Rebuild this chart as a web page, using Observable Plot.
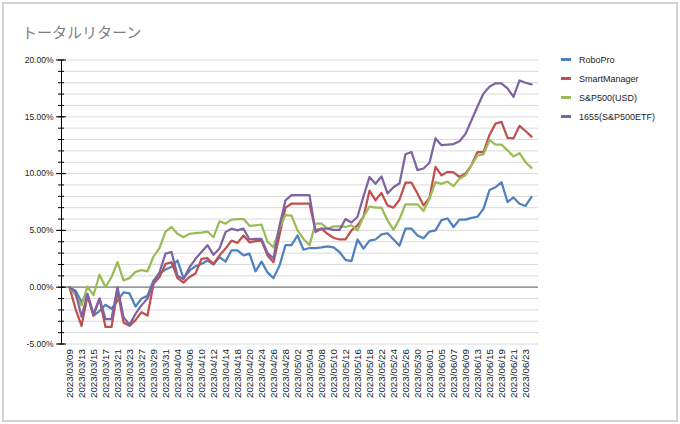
<!DOCTYPE html>
<html><head><meta charset="utf-8">
<script src="https://cdn.jsdelivr.net/npm/d3@7"></script>
<script src="https://cdn.jsdelivr.net/npm/@observablehq/plot@0.6"></script>
<style>
body{margin:0;background:#fff;}
#wrap{position:relative;width:680px;height:424px;overflow:hidden;font-family:"Liberation Sans",Arial,sans-serif;}
#border{position:absolute;left:2px;top:2px;width:676px;height:420px;box-sizing:border-box;border:2px solid #d4d4d4;pointer-events:none;}
#title{position:absolute;left:22px;top:22px;font-family:"Noto Sans CJK JP";font-size:15px;color:#7f7f7f;line-height:20px;white-space:nowrap;}
#legend{position:absolute;left:561px;top:50.5px;font-size:9px;color:#222;}
.item{height:18.9px;display:flex;align-items:center;white-space:nowrap;}
.sw{width:10px;height:3px;margin-right:8px;}
#chart{position:absolute;left:0;top:0;}
</style></head>
<body>
<div id="wrap"><div id="chart"></div><div id="title">トータルリターン</div><div id="legend"></div><div id="border"></div></div>
<script>
const dates = ["2023/03/09","2023/03/10","2023/03/13","2023/03/14","2023/03/15","2023/03/16","2023/03/17","2023/03/20","2023/03/21","2023/03/22","2023/03/23","2023/03/24","2023/03/27","2023/03/28","2023/03/29","2023/03/30","2023/03/31","2023/04/03","2023/04/04","2023/04/05","2023/04/06","2023/04/07","2023/04/10","2023/04/11","2023/04/12","2023/04/13","2023/04/14","2023/04/17","2023/04/18","2023/04/19","2023/04/20","2023/04/21","2023/04/24","2023/04/25","2023/04/26","2023/04/27","2023/04/28","2023/05/01","2023/05/02","2023/05/03","2023/05/04","2023/05/05","2023/05/08","2023/05/09","2023/05/10","2023/05/11","2023/05/12","2023/05/15","2023/05/16","2023/05/17","2023/05/18","2023/05/19","2023/05/22","2023/05/23","2023/05/24","2023/05/25","2023/05/26","2023/05/29","2023/05/30","2023/05/31","2023/06/01","2023/06/02","2023/06/05","2023/06/06","2023/06/07","2023/06/08","2023/06/09","2023/06/12","2023/06/13","2023/06/14","2023/06/15","2023/06/16","2023/06/19","2023/06/20","2023/06/21","2023/06/22","2023/06/23","2023/06/26"];

const tickLabels = ["2023/03/09","2023/03/13","2023/03/15","2023/03/17","2023/03/21","2023/03/23","2023/03/27","2023/03/29","2023/03/31","2023/04/04","2023/04/06","2023/04/10","2023/04/12","2023/04/14","2023/04/18","2023/04/20","2023/04/24","2023/04/26","2023/04/28","2023/05/02","2023/05/04","2023/05/08","2023/05/10","2023/05/12","2023/05/16","2023/05/18","2023/05/22","2023/05/24","2023/05/26","2023/05/30","2023/06/01","2023/06/05","2023/06/07","2023/06/09","2023/06/13","2023/06/15","2023/06/19","2023/06/21","2023/06/23"];

const seriesNames = ["RoboPro","SmartManager","S&P500(USD)","1655(S&P500ETF)"];
const seriesColors = ["#4F81BD","#C0504D","#9BBB59","#8064A2"];

const roboPro = [0,-0.3,-1.3,-0.6,-2.5,-2.1,-1.55,-1.9,-1.2,-0.45,-0.55,-1.7,-1.0,-0.75,0.6,1.2,1.55,1.8,2.35,0.8,1.45,1.85,2.05,2.35,2.0,2.65,2.25,3.25,3.25,2.8,2.95,1.4,2.25,1.3,0.8,1.9,3.7,3.7,4.55,3.3,3.45,3.45,3.5,3.6,3.5,3.1,2.4,2.3,4.2,3.4,4.1,4.2,4.65,4.75,4.2,3.65,5.15,5.15,4.55,4.3,4.9,5.0,5.9,6.05,5.3,5.95,5.95,6.1,6.2,6.9,8.55,8.8,9.25,7.5,7.9,7.35,7.15,7.95];

const smartManager = [0,-1.9,-3.4,-0.75,-2.5,-1.0,-3.5,-3.5,-0.3,-3.1,-3.4,-2.9,-2.2,-2.5,0.3,0.9,2.05,2.2,0.8,0.4,0.9,1.2,2.5,2.55,2.05,2.8,3.4,4.1,3.9,4.55,3.95,4.05,4.1,2.8,2.2,4.6,7.0,7.35,7.35,7.35,7.35,5.0,5.15,4.7,4.35,4.2,4.2,5.0,5.45,6.2,8.5,7.65,8.3,7.2,7.0,7.7,9.2,9.2,8.25,7.2,7.85,10.6,9.85,10.15,10.1,9.7,10.0,10.75,11.9,11.9,13.4,14.4,14.55,13.15,13.1,14.2,13.75,13.25];

const sp500usd = [0,-0.7,-1.6,0.05,-0.7,1.1,0.0,0.9,2.2,0.6,0.8,1.35,1.5,1.4,2.7,3.45,4.9,5.3,4.7,4.4,4.7,4.75,4.8,4.9,4.4,5.8,5.6,5.95,6.0,6.0,5.4,5.45,5.5,4.0,3.5,5.2,6.35,6.3,5.0,4.25,3.7,5.6,5.6,5.15,5.35,5.35,5.3,5.45,5.0,6.2,7.1,7.0,7.0,5.9,5.05,6.0,7.3,7.3,7.3,6.7,7.8,9.25,9.1,9.3,8.9,9.55,9.85,10.75,11.6,11.7,12.95,12.55,12.55,12.05,11.5,11.8,11.0,10.5];

const etf1655 = [0,-0.45,-2.6,-0.6,-2.35,-1.0,-2.8,-2.8,0,-2.65,-3.3,-2.35,-1.6,-1.0,0.45,1.3,2.95,3.1,1.0,0.7,1.75,2.5,3.1,3.7,2.85,3.4,4.85,5.15,5.0,5.15,4.2,4.25,4.25,3.0,2.55,5.4,7.65,8.1,8.1,8.1,8.1,4.85,5.15,5.15,5.05,5.05,6.0,5.7,6.2,8.0,9.7,9.1,9.75,8.25,8.8,9.15,11.7,11.9,10.3,10.45,10.95,13.1,12.5,12.55,12.6,12.85,13.5,14.7,15.9,17.05,17.65,17.95,17.95,17.5,16.75,18.2,18.0,17.85];

const majorTicks = [-5,0,5,10,15,20];
const minorTicks = [-5,-4,-3,-2,-1,0,1,2,3,4,5,6,7,8,9,10,11,12,13,14,15,16,17,18,19,20];

const seriesValues = [roboPro, smartManager, sp500usd, etf1655];
const rows = [];
seriesValues.forEach((vals, s) => vals.forEach((v, i) => rows.push({series: seriesNames[s], date: dates[i], value: v})));

const chart = Plot.plot({
  width: 680, height: 424,
  marginLeft: 61, marginRight: 142, marginTop: 59.5, marginBottom: 80.5,
  style: {fontFamily: "Liberation Sans, Arial, sans-serif", fontSize: "9px", color: "#333", background: "transparent", overflow: "visible"},
  x: {type: "point", domain: dates, padding: 0.5, align: 0.5, label: null},
  y: {domain: [-5, 20], label: null},
  color: {domain: seriesNames, range: seriesColors},
  marks: [
    Plot.ruleY(minorTicks, {stroke: "#d9d9d9", strokeWidth: 1}),
    Plot.ruleY([0], {stroke: "#7f7f7f", strokeWidth: 1.25}),
    Plot.frame({anchor: "left", stroke: "#000", strokeWidth: 1}),
    Plot.axisY({ticks: minorTicks, tickSize: 6, dx: 3, tickFormat: () => "", stroke: "#000", label: null}),
    Plot.axisY({ticks: majorTicks, tickSize: 10, dx: 5, tickFormat: () => "", stroke: "#000", label: null}),
    Plot.axisY({ticks: majorTicks, tickSize: 0, tickPadding: 8, tickFormat: d => d.toFixed(2) + "%", fontSize: 8.5, fill: "#222", label: null}),
    Plot.axisX({ticks: tickLabels, tickSize: 0, tickRotate: -90, tickPadding: 5, fontSize: 9.8, fill: "#222", label: null}),
    Plot.lineY(rows, {x: "date", y: "value", z: "series", stroke: "series", strokeWidth: 2.25, strokeLinejoin: "round"})
  ]
});
document.getElementById("chart").appendChild(chart);

const legend = document.getElementById("legend");
seriesNames.forEach((n, k) => {
  const it = document.createElement("div");
  it.className = "item";
  const sw = document.createElement("span");
  sw.className = "sw";
  sw.style.background = seriesColors[k];
  const t = document.createElement("span");
  t.textContent = n;
  it.appendChild(sw); it.appendChild(t);
  legend.appendChild(it);
});
</script>
</body></html>
